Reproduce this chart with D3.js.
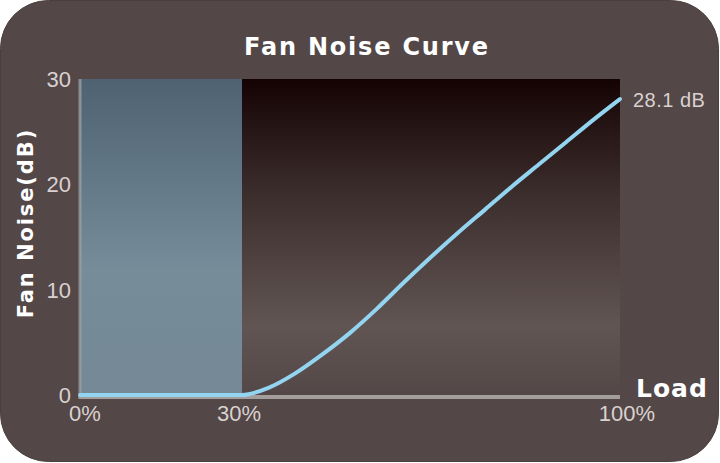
<!DOCTYPE html>
<meta charset="utf-8">
<style>
  body { margin: 0; background: #ffffff; }
  svg { display: block; }
  .tick-label { font-family: 'Liberation Sans', Arial, sans-serif; fill: #d9d1d0; }
  .bold-label { font-family: 'DejaVu Sans', Verdana, sans-serif; font-weight: bold; fill: #ffffff; }
</style>
<body>
<svg width="720" height="463"></svg>
<script src="https://d3js.org/d3.v7.min.js"></script>
<script>
  // load in %, noise in dB
  const loadPct = [0, 10, 20, 30, 35, 40, 45, 50, 55, 60, 65, 70, 75, 80, 85, 90, 95, 100];
  const noiseDb = [0, 0, 0, 0, 0.7, 2.1, 3.9, 5.9, 8.2, 10.7, 13.1, 15.4, 17.6, 19.8, 21.9, 24.0, 26.1, 28.1];
  const yTicks = [0, 10, 20, 30];
  const xTicks = [0, 30, 100];
  const quietZone = [0, 30];

  const W = 720, H = 463;
  const svg = d3.select('svg');

  const x = d3.scaleLinear().domain([0, 100]).range([80, 620]);
  const y = d3.scaleLinear().domain([0, 30]).range([395, 79]);

  const defs = svg.append('defs');
  const darkGrad = defs.append('linearGradient')
    .attr('id', 'darkGrad')
    .attr('gradientUnits', 'userSpaceOnUse')
    .attr('x1', 0).attr('y1', y(30)).attr('x2', 0).attr('y2', y(0));
  darkGrad.append('stop').attr('offset', '0%').attr('stop-color', '#150303');
  darkGrad.append('stop').attr('offset', '35%').attr('stop-color', '#3a2c2b');
  darkGrad.append('stop').attr('offset', '78%').attr('stop-color', '#615554');
  darkGrad.append('stop').attr('offset', '100%').attr('stop-color', '#544747');

  const blueGrad = defs.append('linearGradient')
    .attr('id', 'blueGrad')
    .attr('gradientUnits', 'userSpaceOnUse')
    .attr('x1', 0).attr('y1', y(30)).attr('x2', 0).attr('y2', y(0));
  blueGrad.append('stop').attr('offset', '0%').attr('stop-color', '#4e6271');
  blueGrad.append('stop').attr('offset', '60%').attr('stop-color', '#768c99');
  blueGrad.append('stop').attr('offset', '100%').attr('stop-color', '#748995');

  // card background
  svg.append('rect')
    .attr('x', 0.5).attr('y', 0.5)
    .attr('width', W - 2).attr('height', H - 2)
    .attr('rx', 48).attr('ry', 48)
    .attr('fill', '#534747')
    .attr('stroke', '#4a3f3f');

  // plot area
  svg.append('rect')
    .attr('x', x(0)).attr('y', y(30))
    .attr('width', x(100) - x(0)).attr('height', y(0) - y(30))
    .attr('fill', 'url(#darkGrad)');

  svg.append('rect')
    .attr('x', x(quietZone[0])).attr('y', y(30))
    .attr('width', x(quietZone[1]) - x(quietZone[0])).attr('height', y(0) - y(30))
    .attr('fill', 'url(#blueGrad)');

  // axes lines
  svg.append('line')
    .attr('x1', x(0)).attr('x2', x(0))
    .attr('y1', y(30)).attr('y2', y(0) + 3)
    .attr('stroke', '#9aa0a3').attr('stroke-opacity', 0.8).attr('stroke-width', 3);

  svg.append('line')
    .attr('x1', x(0) - 1.5).attr('x2', x(100))
    .attr('y1', y(0) + 2).attr('y2', y(0) + 2)
    .attr('stroke', '#a39d9b').attr('stroke-width', 4);

  // curve
  const line = d3.line()
    .x((d, i) => x(loadPct[i]))
    .y(d => y(d))
    .curve(d3.curveMonotoneX);

  svg.append('path')
    .datum(noiseDb)
    .attr('d', line)
    .attr('fill', 'none')
    .attr('stroke', '#93d4f0')
    .attr('stroke-width', 4)
    .attr('stroke-linecap', 'round');

  // y tick labels
  svg.selectAll('.ytick')
    .data(yTicks)
    .enter().append('text')
    .attr('class', 'tick-label')
    .attr('x', 71)
    .attr('y', d => y(d))
    .attr('dy', '0.36em')
    .attr('text-anchor', 'end')
    .style('font-size', '22px')
    .text(d => d);

  // x tick labels
  svg.selectAll('.xtick')
    .data(xTicks)
    .enter().append('text')
    .attr('class', 'tick-label')
    .attr('x', d => x(d) + (d === 0 ? 5 : d === 100 ? 7 : -3))
    .attr('y', 421)
    .attr('text-anchor', 'middle')
    .style('font-size', '22px')
    .text(d => d + '%');

  // end value label
  svg.append('text')
    .attr('class', 'tick-label')
    .attr('x', 633)
    .attr('y', 107)
    .style('font-size', '20px')
    .style('letter-spacing', '0.5px')
    .text(noiseDb[noiseDb.length - 1] + ' dB');

  // titles
  svg.append('text')
    .attr('class', 'bold-label')
    .attr('x', 367)
    .attr('y', 55)
    .attr('text-anchor', 'middle')
    .style('font-size', '24px')
    .style('letter-spacing', '1.8px')
    .text('Fan Noise Curve');

  svg.append('text')
    .attr('class', 'bold-label')
    .attr('transform', 'translate(33, 223) rotate(-90)')
    .attr('text-anchor', 'middle')
    .style('font-size', '21px')
    .style('letter-spacing', '1.9px')
    .text('Fan Noise(dB)');

  svg.append('text')
    .attr('class', 'bold-label')
    .attr('x', 636)
    .attr('y', 397)
    .style('font-size', '25px')
    .style('letter-spacing', '1px')
    .text('Load');
</script>
</body>
